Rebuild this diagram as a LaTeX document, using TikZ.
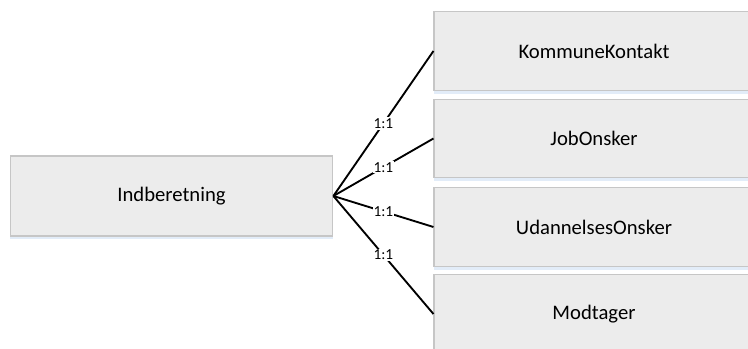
\documentclass[tikz,border=0pt]{standalone}
\usepackage{fontspec}
\setmainfont{Carlito}
\usetikzlibrary{shadows}
\definecolor{color_entity_fill}{HTML}{ECECEC}
\definecolor{color_entity_border}{HTML}{C6C6C6}
\definecolor{color_entity_shadow}{HTML}{E2ECF8}
\def\entityfontsize{\fontsize{15.5pt}{18pt}\selectfont}
\def\relfontsize{\fontsize{11.5pt}{13pt}\selectfont}

\begin{document}
\begin{tikzpicture}[x=0.75pt, y=-0.75pt,
    entity/.style={rectangle, draw=color_entity_border, line width=0.8pt, fill=color_entity_fill,
        minimum width=240pt, minimum height=59pt, inner sep=0pt, font=\entityfontsize,
        drop shadow={fill=color_entity_shadow, opacity=1, shadow xshift=0pt, shadow yshift=-2.5pt}},
    rel/.style={line width=1.4pt, black},
    card/.style={fill=white, inner sep=0.8pt, font=\relfontsize}]
    \useasboundingbox (0,0) rectangle (748,349);
    % entities
    \node[entity, minimum width=242pt, minimum height=60pt] (ind) at (171.5,196) {Indberetning};
    \node[entity] (kontakt) at (594,51) {KommuneKontakt};
    \node[entity] (job) at (594,138.5) {JobOnsker};
    \node[entity] (udd) at (594,227) {UdannelsesOnsker};
    \node[entity] (modt) at (594,314) {Modtager};
    % relations
    \foreach \e in {kontakt,job,udd,modt}
        \draw[rel] (ind.east) -- node[card] {1:1} (\e.west);
\end{tikzpicture}
\end{document}
